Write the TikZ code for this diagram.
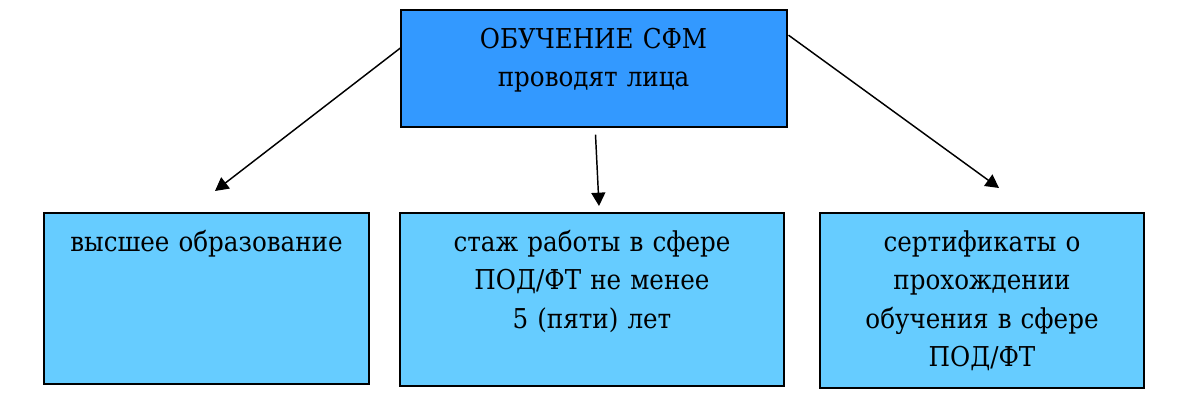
\documentclass[tikz,border=0pt]{standalone}
\usepackage{fontspec}
\setmainfont{DejaVu Serif Condensed}
\usetikzlibrary{positioning}
\usetikzlibrary{arrows.meta}
\definecolor{headc}{HTML}{3399FF}
\definecolor{itemc}{HTML}{66CCFF}
\tikzset{
  box/.style={anchor=north west, draw=black, line width=1.5pt, shape=rectangle, inner sep=0pt},
  caption/.style={inner sep=0pt, align=center, text width=240pt, font=\fontsize{20.5}{28.9}\selectfont, execute at begin node=\strut},
  link/.style={-{Triangle[length=10pt,width=10.5pt]}, line width=1.1pt}
}
\begin{document}
\begin{tikzpicture}[x=0.75pt,y=-0.75pt]
\useasboundingbox (0,0) rectangle (1188,409);

\node[box, fill=headc, minimum width=289.5pt, minimum height=87.75pt] (head) at (399.5,9) {};
\node[box, fill=itemc, minimum width=243.75pt, minimum height=128.25pt] (edu) at (43,212) {};
\node[box, fill=itemc, minimum width=288pt, minimum height=129.75pt] (exp) at (399,212) {};
\node[box, fill=itemc, minimum width=243pt, minimum height=131.25pt] (cert) at (819,212) {};

\node[caption, below=9pt of head.north] {ОБУЧЕНИЕ СФМ\\проводят лица};
\node[caption, below=9pt of edu.north] {высшее образование};
\node[caption, below=9pt of exp.north] {стаж работы в сфере\\ПОД/ФТ не менее\\5 (пяти) лет};
\node[caption, below=9pt of cert.north] {сертификаты о\\прохождении\\обучения в сфере\\ПОД/ФТ};

% arrow ends
\coordinate (edu tip) at (215,191);
\coordinate (exp tip) at (599,206);
\coordinate (cert tip) at (999,188);

\draw[link] ([xshift=1.5pt,yshift=16pt]head.west) -- (edu tip);
\draw[link] ([xshift=1.5pt,yshift=-5pt]head.south) -- (exp tip);
\draw[link] ([xshift=0.75pt,yshift=25pt]head.east) -- (cert tip);

\end{tikzpicture}
\end{document}
